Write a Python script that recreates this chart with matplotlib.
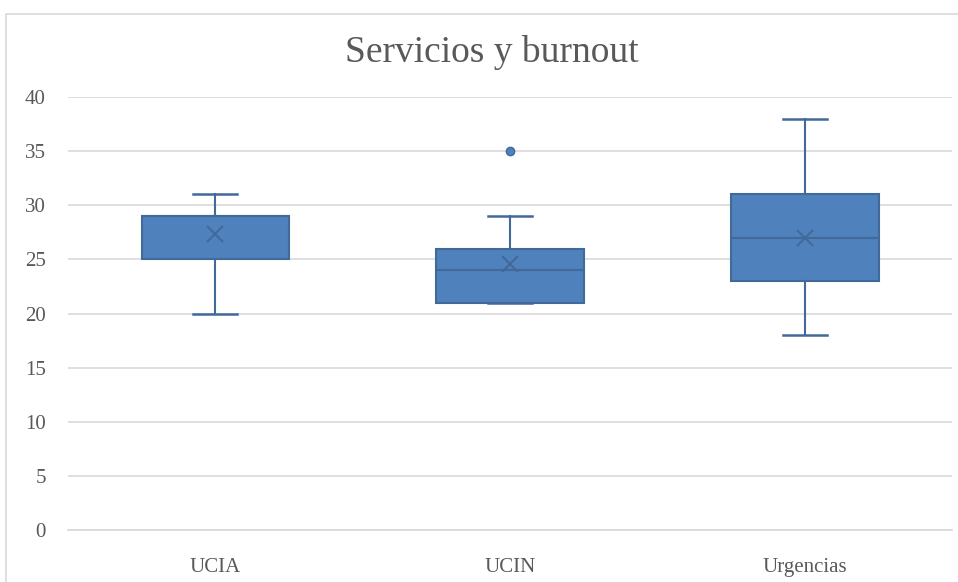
import matplotlib
matplotlib.use("Agg")
import matplotlib.pyplot as plt
from matplotlib.patches import Rectangle

categories = ["UCIA", "UCIN", "Urgencias"]
whislo = [20, 21, 18]
q1 = [25, 21, 23]
med = [29, 24, 27]
q3 = [29, 26, 31]
whishi = [31, 29, 38]
means = [27.3, 24.6, 27.0]
fliers = [[], [35], []]
yticks = [0, 5, 10, 15, 20, 25, 30, 35, 40]

plt.rcParams['font.family'] = ['Liberation Serif', 'DejaVu Serif']

fig = plt.figure(figsize=(9.58, 5.82), dpi=100)
ax = fig.add_axes([0.071, 0.0893, 0.923, 0.744])

stats = []
for i, c in enumerate(categories):
    stats.append(dict(label=c, whislo=whislo[i], q1=q1[i], med=med[i], q3=q3[i],
                      whishi=whishi[i], mean=means[i], fliers=fliers[i]))

fill = '#4F81BD'
edge = '#41699A'
ax.bxp(stats, positions=[1, 2, 3], widths=0.5, capwidths=0.15, patch_artist=True,
       showmeans=True, showfliers=True,
       boxprops=dict(facecolor=fill, edgecolor=edge, linewidth=1.5),
       medianprops=dict(color=edge, linewidth=1.5),
       whiskerprops=dict(color=edge, linewidth=1.5),
       capprops=dict(color=edge, linewidth=1.8),
       meanprops=dict(marker='x', markeredgecolor=edge, markersize=12, markeredgewidth=1.5),
       flierprops=dict(marker='o', markerfacecolor=fill, markeredgecolor=edge, markersize=6))

ax.set_xlim(0.5, 3.5)
ax.set_ylim(0, 40)
ax.set_yticks(yticks)
ax.grid(axis='y', color='#D9D9D9', linewidth=1.2)
ax.set_axisbelow(True)
for s in ['top', 'right', 'left']:
    ax.spines[s].set_visible(False)
ax.spines['bottom'].set_color('#D9D9D9')
ax.spines['bottom'].set_linewidth(1.2)
ax.tick_params(axis='both', length=0, labelsize=15, colors='#595959')
ax.tick_params(axis='y', pad=16)
ax.tick_params(axis='x', pad=20)

fig.text(0.513, 0.91, "Servicios y burnout", ha='center', va='center',
         fontsize=27, color='#595959')

fig.add_artist(Rectangle((6/958, -0.1), 1.1, 1 - 14/582 + 0.1, transform=fig.transFigure,
                         fill=False, edgecolor='#D9D9D9', linewidth=1.2))

fig.savefig("out.png", dpi=100)
